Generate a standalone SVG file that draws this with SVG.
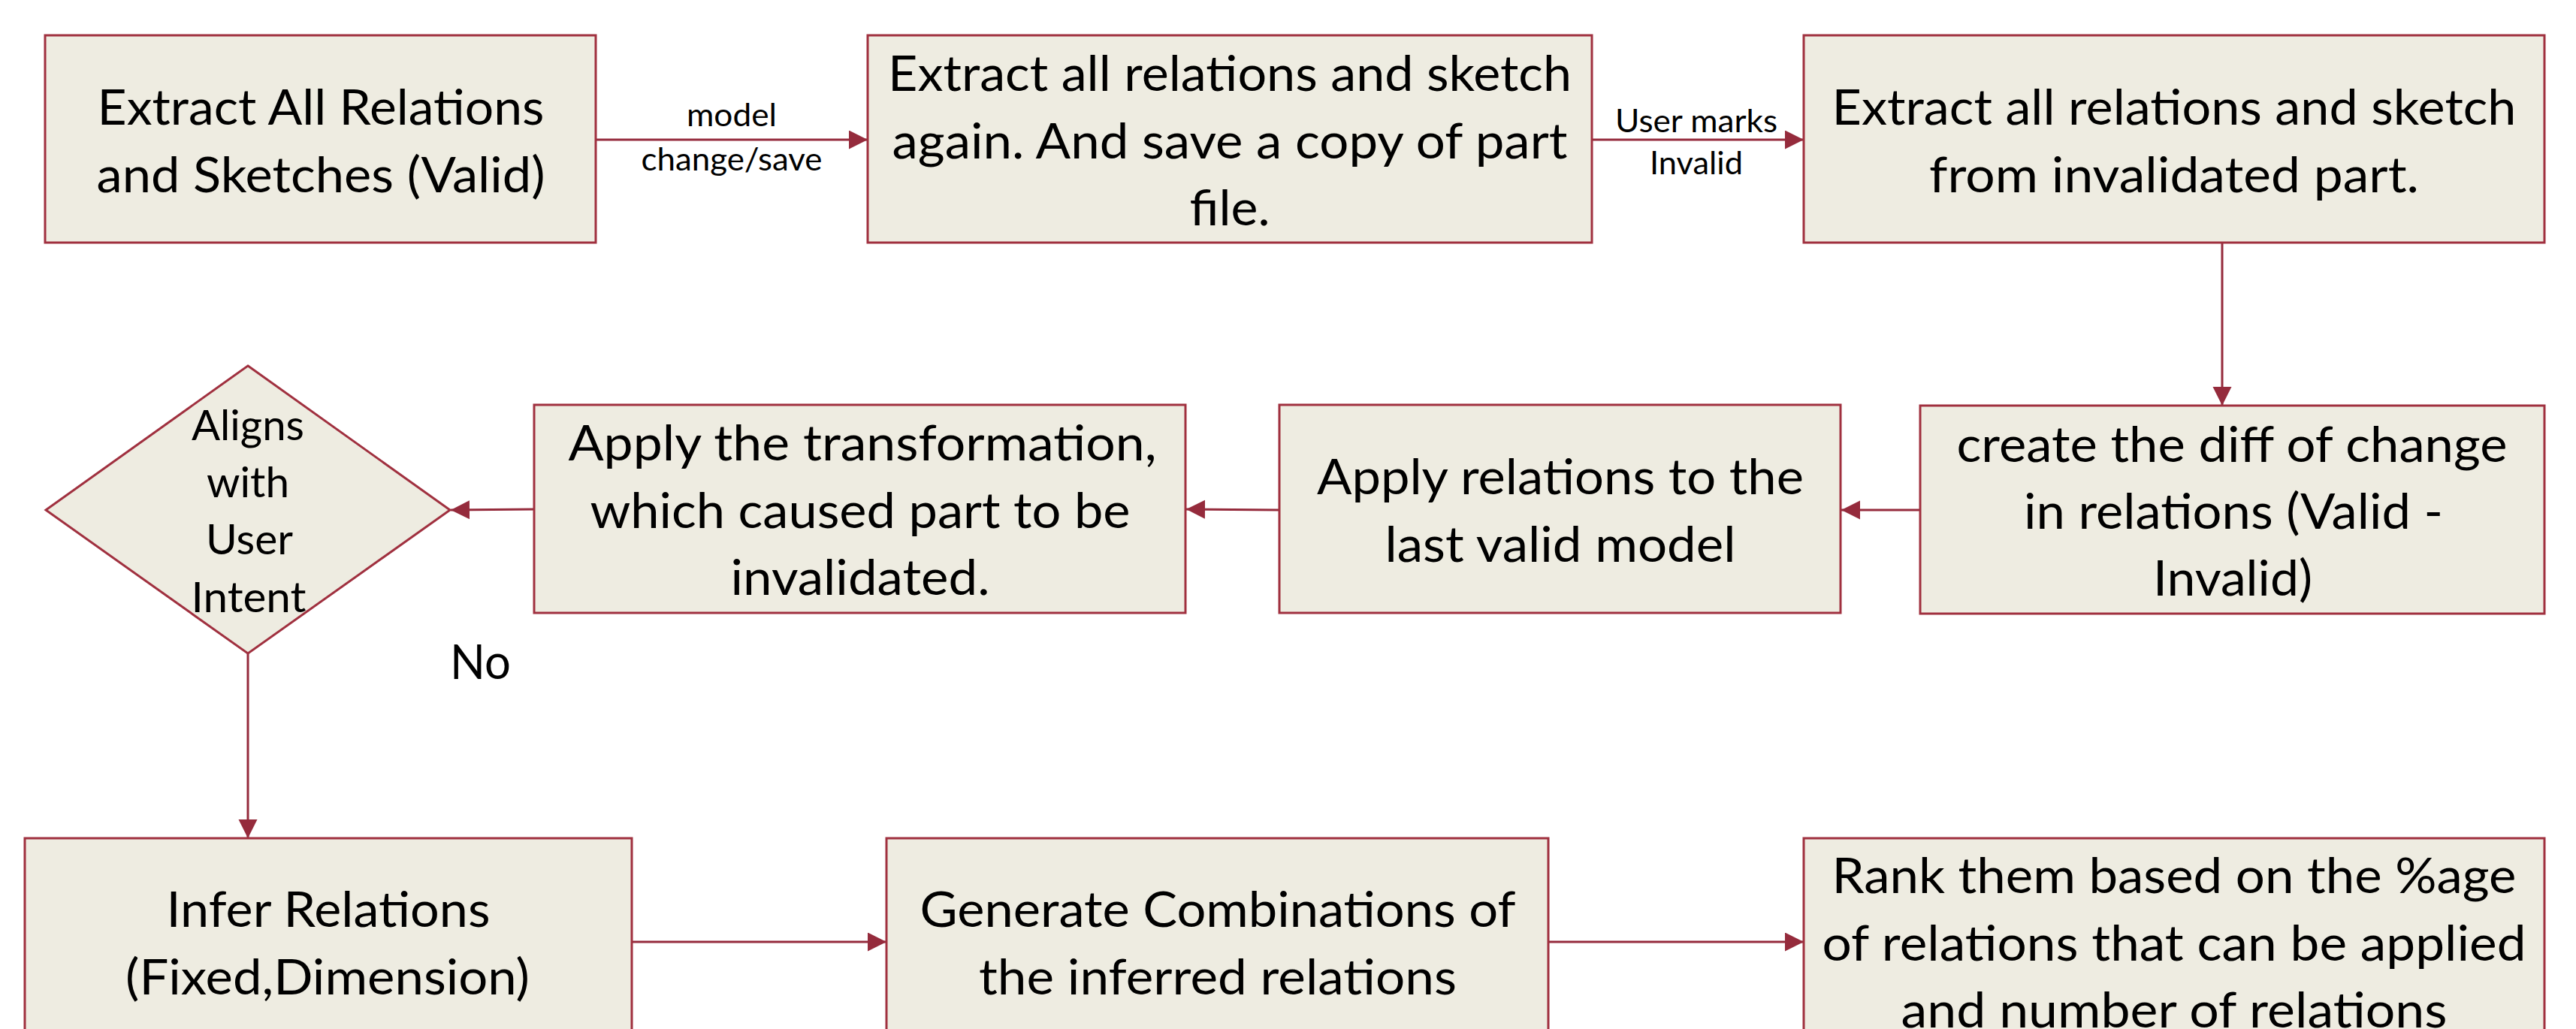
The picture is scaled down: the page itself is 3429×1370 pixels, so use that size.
<svg xmlns="http://www.w3.org/2000/svg" width="3429" height="1370" viewBox="0 0 3429 1370">
  <style>
    .box { fill: #EEECE1; stroke: #A0303F; stroke-width: 3; }
    .t { font-family: Lato, "Open Sans", "Liberation Sans", sans-serif; font-size: 66px; fill: #000; text-anchor: middle; }
    .d { font-family: Lato, "Open Sans", "Liberation Sans", sans-serif; font-size: 56px; fill: #000; text-anchor: middle; }
    .lbl { font-family: Lato, "Open Sans", "Liberation Sans", sans-serif; font-size: 42px; fill: #000; text-anchor: middle; }
    .no { font-family: Lato, "Open Sans", "Liberation Sans", sans-serif; font-size: 63px; fill: #000; text-anchor: middle; }
    .conn { stroke: #952B3C; stroke-width: 3; fill: none; }
  </style>
  <defs>
    <marker id="arrow" markerUnits="userSpaceOnUse" markerWidth="26" markerHeight="26" refX="25" refY="12.5" orient="auto">
      <path d="M0,0 L25,12.5 L0,25 Z" fill="#952B3C"/>
    </marker>
  </defs>
  <rect width="3429" height="1370" fill="#FFFFFF"/>

  <g id="connectors">
    <line class="conn" x1="793" y1="186" x2="1155" y2="186" marker-end="url(#arrow)"/>
    <line class="conn" x1="2119" y1="186" x2="2401" y2="186" marker-end="url(#arrow)"/>
    <line class="conn" x1="2958" y1="323" x2="2958" y2="540" marker-end="url(#arrow)"/>
    <line class="conn" x1="2556" y1="679" x2="2451" y2="679" marker-end="url(#arrow)"/>
    <line class="conn" x1="1703" y1="679" x2="1579" y2="678" marker-end="url(#arrow)"/>
    <line class="conn" x1="711" y1="678" x2="600" y2="679" marker-end="url(#arrow)"/>
    <line class="conn" x1="330" y1="870" x2="330" y2="1116" marker-end="url(#arrow)"/>
    <line class="conn" x1="841" y1="1254" x2="1180" y2="1254" marker-end="url(#arrow)"/>
    <line class="conn" x1="2061" y1="1254" x2="2401" y2="1254" marker-end="url(#arrow)"/>
    <g id="label-model">
      <text class="lbl" x="974" y="168" textLength="120" lengthAdjust="spacingAndGlyphs">model</text>
      <text class="lbl" x="974" y="227" textLength="241" lengthAdjust="spacingAndGlyphs">change/save</text>
    </g>
    <g id="label-user">
      <text class="lbl" x="2258" y="176" textLength="216" lengthAdjust="spacingAndGlyphs">User marks</text>
      <text class="lbl" x="2258" y="232" textLength="124" lengthAdjust="spacingAndGlyphs">Invalid</text>
    </g>
    <text id="label-no" class="no" x="639.5" y="904" textLength="81" lengthAdjust="spacingAndGlyphs">No</text>
  </g>

  <g id="n1">
    <rect class="box" x="60" y="47" width="733" height="276"/>
    <text class="t" x="427" y="166" textLength="595" lengthAdjust="spacingAndGlyphs">Extract All Relations</text>
    <text class="t" x="427" y="256" textLength="597" lengthAdjust="spacingAndGlyphs">and Sketches (Valid)</text>
  </g>

  <g id="n2">
    <rect class="box" x="1155" y="47" width="964" height="276"/>
    <text class="t" x="1637" y="121" textLength="910" lengthAdjust="spacingAndGlyphs">Extract all relations and sketch</text>
    <text class="t" x="1637" y="211" textLength="899" lengthAdjust="spacingAndGlyphs">again. And save a copy of part</text>
    <text class="t" x="1637" y="300" textLength="107" lengthAdjust="spacingAndGlyphs">file.</text>
  </g>

  <g id="n3">
    <rect class="box" x="2401" y="47" width="986" height="276"/>
    <text class="t" x="2894" y="166" textLength="911" lengthAdjust="spacingAndGlyphs">Extract all relations and sketch</text>
    <text class="t" x="2894" y="256" textLength="652" lengthAdjust="spacingAndGlyphs">from invalidated part.</text>
  </g>

  <g id="n4">
    <rect class="box" x="2556" y="540" width="831" height="277"/>
    <text class="t" x="2971" y="615" textLength="733" lengthAdjust="spacingAndGlyphs">create the diff of change</text>
    <text class="t" x="2973" y="704" textLength="558" lengthAdjust="spacingAndGlyphs">in relations (Valid -</text>
    <text class="t" x="2972" y="793" textLength="212" lengthAdjust="spacingAndGlyphs">Invalid)</text>
  </g>

  <g id="n5">
    <rect class="box" x="1703" y="539" width="747" height="277"/>
    <text class="t" x="2077" y="658" textLength="648" lengthAdjust="spacingAndGlyphs">Apply relations to the</text>
    <text class="t" x="2077" y="748" textLength="467" lengthAdjust="spacingAndGlyphs">last valid model</text>
  </g>

  <g id="n6">
    <rect class="box" x="711" y="539" width="867" height="277"/>
    <text class="t" x="1148" y="613" textLength="783" lengthAdjust="spacingAndGlyphs">Apply the transformation,</text>
    <text class="t" x="1145" y="703" textLength="719" lengthAdjust="spacingAndGlyphs">which caused part to be</text>
    <text class="t" x="1145" y="792" textLength="345" lengthAdjust="spacingAndGlyphs">invalidated.</text>
  </g>

  <g id="n7-decision">
    <polygon class="box" points="330,487 599,679 330,870 61,679" stroke-width="2.5"/>
    <text class="d" x="330" y="586" textLength="150" lengthAdjust="spacingAndGlyphs">Aligns</text>
    <text class="d" x="330" y="662" textLength="110" lengthAdjust="spacingAndGlyphs">with</text>
    <text class="d" x="332" y="738" textLength="116" lengthAdjust="spacingAndGlyphs">User</text>
    <text class="d" x="331" y="815" textLength="153" lengthAdjust="spacingAndGlyphs">Intent</text>
  </g>

  <g id="n8">
    <rect class="box" x="33" y="1116" width="808" height="300"/>
    <text class="t" x="437" y="1234" textLength="431" lengthAdjust="spacingAndGlyphs">Infer Relations</text>
    <text class="t" x="436" y="1324" textLength="538" lengthAdjust="spacingAndGlyphs">(Fixed,Dimension)</text>
  </g>

  <g id="n9">
    <rect class="box" x="1180" y="1116" width="881" height="300"/>
    <text class="t" x="1621" y="1234" textLength="793" lengthAdjust="spacingAndGlyphs">Generate Combinations of</text>
    <text class="t" x="1621" y="1324" textLength="636" lengthAdjust="spacingAndGlyphs">the inferred relations</text>
  </g>

  <g id="n10">
    <rect class="box" x="2401" y="1116" width="986" height="300"/>
    <text class="t" x="2894" y="1189" textLength="911" lengthAdjust="spacingAndGlyphs">Rank them based on the %age</text>
    <text class="t" x="2894" y="1279" textLength="937" lengthAdjust="spacingAndGlyphs">of relations that can be applied</text>
    <text class="t" x="2894" y="1368" textLength="727" lengthAdjust="spacingAndGlyphs">and number of relations</text>
  </g>
</svg>
